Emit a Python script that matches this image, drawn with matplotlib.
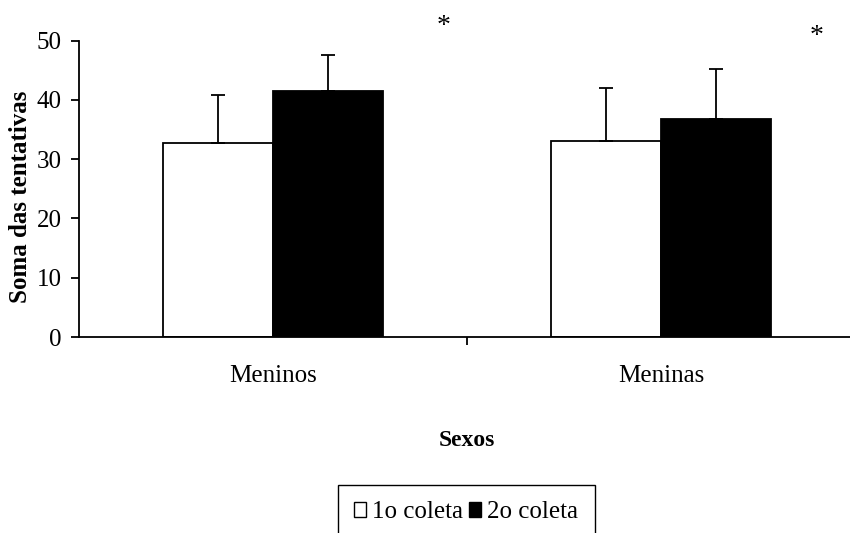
import matplotlib.pyplot as plt
import numpy as np
from matplotlib.patches import Patch

plt.rcParams['font.family'] = 'Liberation Serif'

grupos = ['Meninos', 'Meninas']
coleta1 = [32.7, 33.0]
coleta2 = [41.5, 36.8]
erro1 = [8.1, 9.1]
erro2 = [6.1, 8.4]
series = ['1o coleta', '2o coleta']
asteriscos_x = [0.44, 1.40]
asteriscos_y = [52.35, 50.65]

W, H = 850, 533
fig = plt.figure(figsize=(8.5, 5.33), dpi=100)
ax = fig.add_axes([79 / W, (H - 337) / H, 776 / W, (337 - 40.7) / H])

x = np.arange(len(grupos))
bw = 0.283
ax.bar(x - bw / 2, coleta1, bw, color='white', edgecolor='black', linewidth=1.3, zorder=2)
ax.bar(x + bw / 2, coleta2, bw, color='black', edgecolor='black', linewidth=1.3, zorder=2)
ax.errorbar(x - bw / 2, coleta1, yerr=[np.zeros(2), erro1], fmt='none', ecolor='black',
            elinewidth=1.3, capsize=4.7, capthick=1.3, zorder=3)
ax.errorbar(x + bw / 2, coleta2, yerr=[np.zeros(2), erro2], fmt='none', ecolor='black',
            elinewidth=1.3, capsize=4.7, capthick=1.3, zorder=3)

for ax_, ay in zip(asteriscos_x, asteriscos_y):
    ax.text(ax_, ay, '*', ha='center', va='center', fontsize=20, clip_on=False)

ax.set_xlim(-0.5, 1.5)
ax.set_ylim(0, 50)
ax.set_yticks([0, 10, 20, 30, 40, 50])
ax.tick_params(axis='y', direction='out', length=5.8, width=1.3, labelsize=18, pad=6.5)
ax.set_xticks([0.5])
ax.set_xticklabels([''])
ax.tick_params(axis='x', which='major', direction='out', length=6, width=1.3)
ax.set_xticks(x, grupos, minor=True)
ax.tick_params(axis='x', which='minor', length=0, labelsize=18, pad=20)

for s in ['top', 'right']:
    ax.spines[s].set_visible(False)
for s in ['left', 'bottom']:
    ax.spines[s].set_linewidth(1.3)

ax.set_xlabel('Sexos', fontsize=17, fontweight='bold', labelpad=31)
ax.set_ylabel('Soma das tentativas', fontsize=18, fontweight='bold')
ax.yaxis.set_label_coords(-47 / 776, (337 - 196.5) / (337 - 40.7))

handles = [Patch(facecolor='white', edgecolor='black', linewidth=1.0),
           Patch(facecolor='black', edgecolor='black', linewidth=1.0)]
fig.legend(handles, series, loc='upper center', bbox_to_anchor=(466 / W, 1 - 485 / H),
           ncol=2, fontsize=18, frameon=True, fancybox=False, edgecolor='black',
           handlelength=0.5, handleheight=0.55, handletextpad=0.25, columnspacing=0.2,
           borderpad=0.65, borderaxespad=0, framealpha=1)

fig.savefig('out.png', dpi=100)
